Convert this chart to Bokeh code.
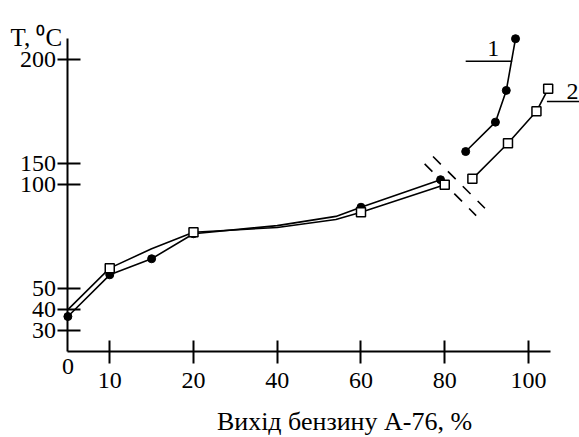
import numpy as np
from bokeh.plotting import figure
from bokeh.models import Range1d, LinearAxis, FixedTicker, Label
from bokeh.embed import file_html
from bokeh.resources import INLINE

# ---------------- data ----------------
# x: yield of A-76 gasoline, %   T: temperature, deg C
# Curve 1 (filled circles), lower branch
c1_x = [0, 10, 15, 20, 60, 79]
c1_T = [36.7, 56.7, 64.4, 76.4, 89.1, 102.3]
# unmarked points
c1_extra_x = [40, 54]
c1_extra_T = [80.3, 84.7]
# Curve 2 (open squares), lower branch
c2_x = [10, 20, 60, 80]
c2_T = [59.9, 77.1, 86.7, 99.9]
# unmarked points
c2_extra_x = [0, 15, 40, 54]
c2_extra_T = [40.0, 69.2, 79.4, 83.2]
# Upper branches (drawn above the axis break)
u1_x = [85.0, 92.1, 94.7, 96.9]
u1_T = [155.8, 169.9, 185.1, 209.9]
u2_x = [86.6, 95.1, 101.9, 104.7]
u2_T = [142.7, 159.8, 175.1, 185.9]

x_ticks = [10, 20, 40, 60, 80, 100]
y_ticks_low = [30, 40, 50, 100]
y_ticks_up = [150, 200]

# curve labels and leader lines (upper-branch units)
lab1_x, lab1_T, lab1_text = 91.6, 205.2, "1"
lab2_x, lab2_T, lab2_text = 110.5, 184.6, "2"
lead1_x, lead1_T = [85.0, 96.1], [199.1, 199.1]
lead2_x, lead2_T = [104.4, 112.2], [179.8, 179.8]
# axis-break marks (lower-branch units)
brk1_x, brk1_T = [77.2, 89.6], [113.4, 88.6]
brk2_x, brk2_T = [75.2, 87.5], [109.9, 85.1]

# ---------------- axis geometry (broken / uneven scales) ----------------
X_DATA_KNOTS = [0, 10, 20, 1000]
X_POS_KNOTS = [-10, 0, 20, 1000]
BREAK_SHIFT = 40  # upper temperature scale is shifted down by 40 deg


def xp(x):
    return np.interp(np.asarray(x, dtype=float), X_DATA_KNOTS, X_POS_KNOTS)


def yl(t):
    return np.asarray(t, dtype=float)


def yu(t):
    return np.asarray(t, dtype=float) - BREAK_SHIFT


def merged(xs, ts, ex, et):
    pts = sorted(zip(list(xs) + list(ex), list(ts) + list(et)))
    return [a for a, _ in pts], [b for _, b in pts]


X0 = float(xp(0))
Y0 = 20.0
FONT = "Liberation Serif"

p = figure(width=579, height=437,
           x_range=Range1d(-26.09, 112.18), y_range=Range1d(-21.30, 188.22),
           x_axis_type=None, y_axis_type=None,
           output_backend="svg", toolbar_location=None, min_border=0)
p.outline_line_color = None
p.background_fill_color = "white"
p.border_fill_color = "white"

# axes
yax = LinearAxis(fixed_location=X0, bounds=(Y0, 170))
yt = [float(v) for v in list(yl(y_ticks_low)) + list(yu(y_ticks_up))]
yax.ticker = FixedTicker(ticks=yt, minor_ticks=[])
yax.major_label_overrides = {v: str(t) for v, t in zip(yt, y_ticks_low + y_ticks_up)}
xax = LinearAxis(fixed_location=Y0, bounds=(X0, 105.25))
xt = [float(v) for v in xp(x_ticks)]
xax.ticker = FixedTicker(ticks=xt, minor_ticks=[])
xax.major_label_overrides = {v: str(t) for v, t in zip(xt, x_ticks)}
for ax in (xax, yax):
    ax.axis_line_width = 2
    ax.axis_line_color = "black"
    ax.major_tick_line_width = 2
    ax.major_tick_line_color = "black"
    ax.minor_tick_line_color = None
    ax.major_label_text_font = FONT
    ax.major_label_text_font_size = "24px"
    ax.major_label_text_color = "black"
yax.major_tick_out = 10
yax.major_tick_in = 13
yax.major_label_standoff = 2
xax.major_tick_out = 12
xax.major_tick_in = 11
xax.major_label_standoff = 10
p.add_layout(yax, "left")
p.add_layout(xax, "below")

# lines
lx1, lT1 = merged(c1_x, c1_T, c1_extra_x, c1_extra_T)
lx2, lT2 = merged(c2_x, c2_T, c2_extra_x, c2_extra_T)
lw = 1.6
p.line(xp(lx1), yl(lT1), line_color="black", line_width=lw)
p.line(xp(lx2), yl(lT2), line_color="black", line_width=lw)
p.line(xp(u1_x), yu(u1_T), line_color="black", line_width=lw)
p.line(xp(u2_x), yu(u2_T), line_color="black", line_width=lw)
p.line(xp(lead1_x), yu(lead1_T), line_color="black", line_width=1.6)
p.line(xp(lead2_x), yu(lead2_T), line_color="black", line_width=1.6)
p.line(xp(brk1_x), yl(brk1_T), line_color="black", line_width=1.6, line_dash="11 10")
p.line(xp(brk2_x), yl(brk2_T), line_color="black", line_width=1.6, line_dash="11 10")

# markers
p.scatter(xp(c1_x), yl(c1_T), marker="circle", size=8, fill_color="black", line_color="black")
p.scatter(xp(u1_x), yu(u1_T), marker="circle", size=8, fill_color="black", line_color="black")
p.scatter(xp(c2_x), yl(c2_T), marker="square", size=9, fill_color="white", line_color="black", line_width=1.5)
p.scatter(xp(u2_x), yu(u2_T), marker="square", size=9, fill_color="white", line_color="black", line_width=1.5)

# texts
p.add_layout(Label(x=float(xp(lab1_x)), y=float(yu(lab1_T)), text=lab1_text, text_align="center",
                   text_baseline="middle", text_font=FONT, text_font_size="24px", text_color="black"))
p.add_layout(Label(x=float(xp(lab2_x)), y=float(yu(lab2_T)), text=lab2_text, text_align="center",
                   text_baseline="middle", text_font=FONT, text_font_size="24px", text_color="black"))
p.add_layout(Label(x=X0, y=Y0, y_offset=-8, text="0", text_align="center", text_baseline="top",
                   text_font=FONT, text_font_size="24px", text_color="black"))
p.add_layout(Label(x=56.06, y=-13.6, text="Вихід бензину А-76, %", text_align="center",
                   text_baseline="middle", text_font=FONT, text_font_size="26px", text_color="black"))
p.add_layout(Label(x=-23.7, y=170.7, text="T, ⁰C", text_align="left",
                   text_baseline="alphabetic", text_font=FONT, text_font_size="25px", text_color="black"))

open("out.html", "w").write(file_html(p, INLINE))
